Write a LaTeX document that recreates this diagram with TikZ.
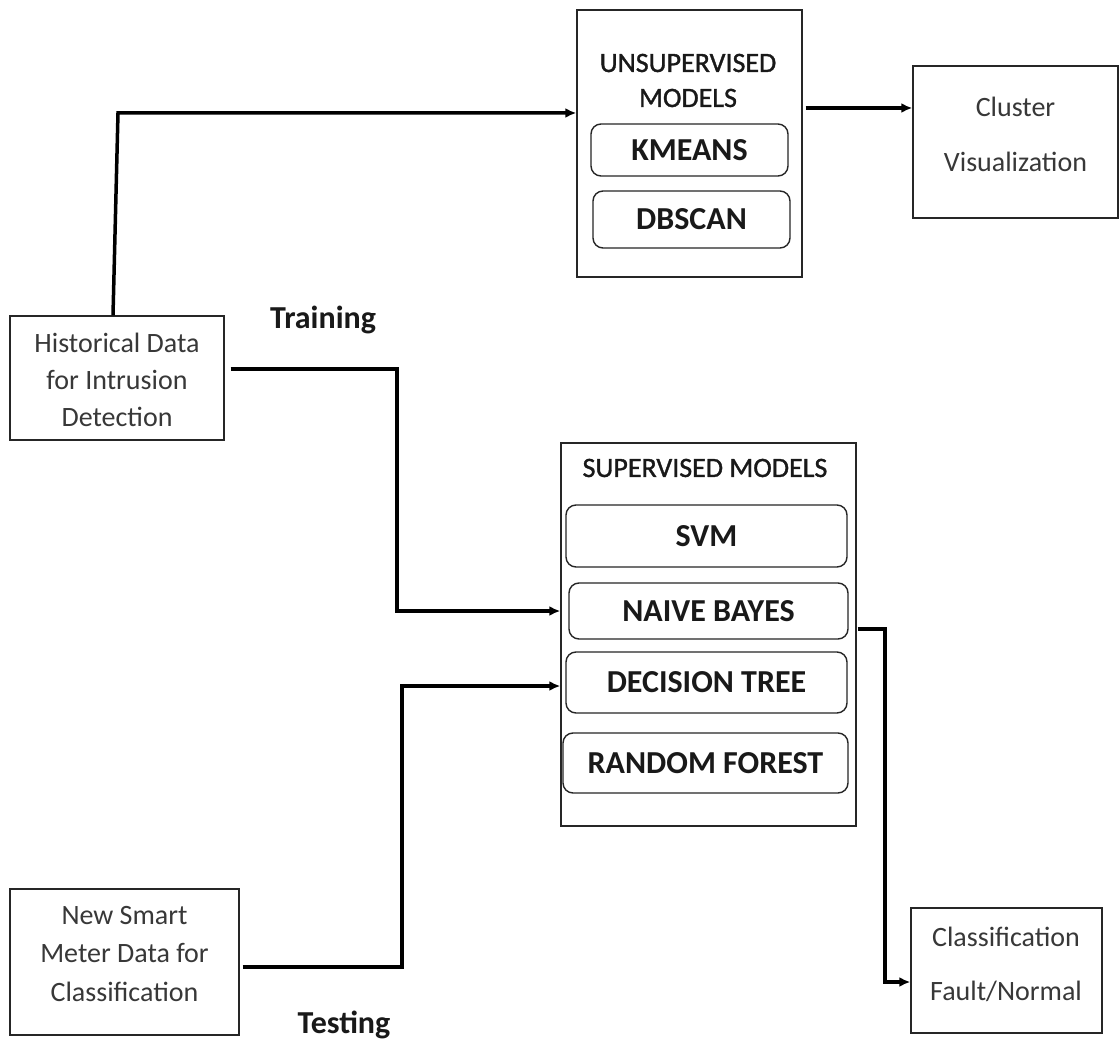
\documentclass[tikz,border=0pt]{standalone}
\usepackage{fontspec}
\setmainfont{Carlito}
\newfontfamily\semibfont[FakeBold=1.2]{Carlito}
\usetikzlibrary{arrows.meta}
\begin{document}
\begin{tikzpicture}[x=1pt,y=-1pt,
  box/.style={draw=black!85,line width=1.4pt,inner sep=0pt,fill=white},
  modelbox/.style={draw=black!85,line width=1.4pt,rounded corners=10pt,inner sep=0pt,
    font=\fontsize{32}{36}\selectfont\bfseries,text=black!90},
  txt/.style={align=center,inner sep=0pt,text=black!78,font=\fontsize{28}{37}\selectfont},
  ttl/.style={align=center,inner sep=0pt,text=black!90,font=\semibfont\fontsize{28}{35}\selectfont},
  phase/.style={inner sep=0pt,text=black!90,font=\fontsize{32}{36}\selectfont\bfseries},
  conn/.style={draw=black,line width=3.5pt,-{Latex[length=11pt,width=10pt]}}]
\useasboundingbox (0,0) rectangle (1120,1043);
\fill[white] (0,0) rectangle (1120,1043);

% left input boxes
\node[box,minimum width=214pt,minimum height=124pt] (hist) at (117,378) {};
\node[txt,font=\fontsize{28}{37}\selectfont] (histtext) at (117,380) {Historical Data\\for Intrusion\\Detection};
\node[box,minimum width=229pt,minimum height=146pt] (new) at (124.5,962) {};
\node[txt,font=\fontsize{28}{38.5}\selectfont] (newtext) at (124.5,954) {New Smart\\Meter Data for\\Classification};

% unsupervised
\node[box,minimum width=225pt,minimum height=267pt] (unsup) at (689.5,143.5) {};
\node[ttl] (unsuptitle) at (688,80.5) {UNSUPERVISED\\MODELS};
\node[modelbox,minimum width=197pt,minimum height=52pt] (km) at (689.5,150) {KMEANS};
\node[modelbox,minimum width=197pt,minimum height=57pt] (db) at (691.5,219.5) {DBSCAN};

% cluster
\node[box,minimum width=205pt,minimum height=152pt] (cluster) at (1015.5,142) {};
\node[txt,font=\fontsize{28}{55}\selectfont] (clustertext) at (1015.5,134.5) {Cluster\\Visualization};

% supervised
\node[box,minimum width=295pt,minimum height=383pt] (sup) at (708.5,634.5) {};
\node[ttl] (suptitle) at (705,468) {SUPERVISED MODELS};
\node[modelbox,minimum width=281pt,minimum height=62pt] (svm) at (706.5,536) {SVM};
\node[modelbox,minimum width=279pt,minimum height=56pt] (nb) at (708.5,611) {NAIVE BAYES};
\node[modelbox,minimum width=281pt,minimum height=61pt] (dt) at (706.5,682.5) {DECISION TREE};
\node[modelbox,minimum width=285pt,minimum height=60pt] (rf) at (705.5,763) {RANDOM FOREST};

% classification
\node[box,minimum width=191pt,minimum height=125pt] (class) at (1006.5,970.5) {};
\node[txt,font=\fontsize{28}{54}\selectfont] (classtext) at (1006,964) {Classification\\Fault/Normal};

% phase labels
\node[phase] (training) at (323,320) {Training};
\node[phase] (testing) at (344,1025) {Testing};

% connectors
\coordinate (a1) at (118,113);
\draw[conn] ([xshift=-4pt]hist.north) -- (a1) -- (a1 -| unsup.west);
\coordinate (a2) at (0,108);
\draw[conn] ([xshift=3pt]a2 -| unsup.east) -- (a2 -| cluster.west);
\coordinate (a3) at (397,369);
\draw[conn] ([xshift=6pt]a3 -| hist.east) -- (a3) -- (a3 |- nb.west) -- (nb.west -| sup.west);
\coordinate (a4) at (402,967);
\coordinate (a5) at (0,686);
\draw[conn] ([xshift=3pt]a4 -| new.east) -- (a4) -- (a4 |- a5) -- (a5 -| sup.west);
\coordinate (a6) at (885,629);
\coordinate (a7) at (0,982);
\draw[conn] ([xshift=1pt]a6 -| sup.east) -- (a6) -- (a6 |- a7) -- (a7 -| class.west);
\end{tikzpicture}
\end{document}
